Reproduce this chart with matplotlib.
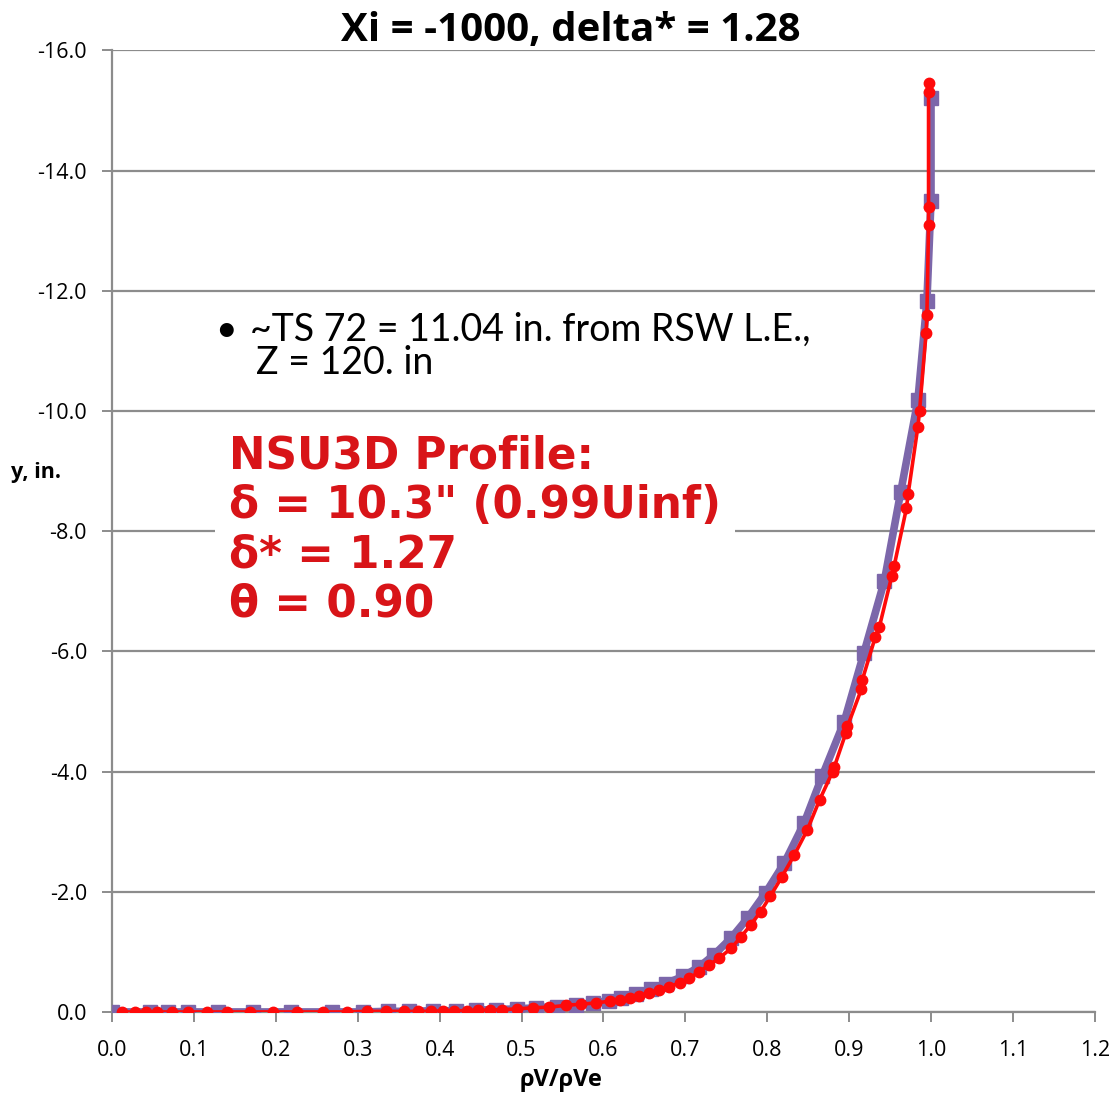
"""Boundary layer velocity profile: measured vs NSU3D at Xi = -1000."""

import matplotlib
matplotlib.use("Agg")
import matplotlib.pyplot as plt

# Measured profile (purple squares)
exp_x = [0.0, 0.046, 0.068, 0.093, 0.129, 0.172, 0.219, 0.268, 0.306, 0.337,
         0.363, 0.392, 0.420, 0.445, 0.469, 0.494, 0.518, 0.543, 0.567, 0.587,
         0.607, 0.622, 0.640, 0.658, 0.676, 0.697, 0.717, 0.735, 0.756, 0.776,
         0.798, 0.821, 0.845, 0.867, 0.894, 0.918, 0.943, 0.963, 0.984, 0.995,
         1.000, 1.000]
exp_y = [0.0, 0.0, 0.0, 0.0, 0.0, 0.0, 0.0, 0.0, 0.0, -0.01,
         -0.01, -0.02, -0.02, -0.03, -0.04, -0.05, -0.07, -0.09, -0.12, -0.15,
         -0.19, -0.24, -0.30, -0.38, -0.47, -0.59, -0.75, -0.95, -1.23, -1.56,
         -1.98, -2.48, -3.14, -3.92, -4.83, -5.97, -7.17, -8.65, -10.18, -11.83,
         -13.50, -15.20]

# NSU3D profile (red circles)
cfd_x = [0.012, 0.028, 0.042, 0.055, 0.073, 0.093, 0.116, 0.140, 0.168, 0.196,
         0.226, 0.258, 0.287, 0.311, 0.335, 0.357, 0.373, 0.390, 0.404, 0.418,
         0.433, 0.447, 0.461, 0.476, 0.494, 0.514, 0.534, 0.554, 0.573, 0.591,
         0.608, 0.620, 0.632, 0.644, 0.656, 0.668, 0.680, 0.693, 0.705, 0.717,
         0.729, 0.741, 0.756, 0.768, 0.780, 0.792, 0.804, 0.818, 0.833, 0.849,
         0.864, 0.880, 0.882, 0.896, 0.898, 0.915, 0.916, 0.932, 0.937, 0.952,
         0.955, 0.970, 0.972, 0.984, 0.986, 0.994, 0.995, 0.997, 0.997, 0.997,
         0.997]
cfd_y = [0.0, 0.0, 0.0, 0.0, 0.0, 0.0, 0.0, 0.0, 0.0, 0.0,
         0.0, 0.0, 0.0, -0.01, -0.01, -0.01, -0.01, -0.01, -0.02, -0.02,
         -0.02, -0.03, -0.03, -0.04, -0.05, -0.07, -0.08, -0.11, -0.13, -0.15,
         -0.18, -0.20, -0.23, -0.27, -0.31, -0.37, -0.42, -0.48, -0.56, -0.67,
         -0.78, -0.89, -1.06, -1.25, -1.45, -1.67, -1.93, -2.25, -2.61, -3.03,
         -3.53, -4.00, -4.08, -4.64, -4.75, -5.37, -5.52, -6.24, -6.41, -7.25,
         -7.42, -8.38, -8.61, -9.74, -10.00, -11.30, -11.60, -13.10, -13.40, -15.30,
         -15.45]

y_ticks = [0, -2, -4, -6, -8, -10, -12, -14, -16]
x_ticks = [0.0, 0.1, 0.2, 0.3, 0.4, 0.5, 0.6, 0.7, 0.8, 0.9, 1.0, 1.1, 1.2]

purple = "#7c67aa"
red = "#ff0a0a"
grid_gray = "#8c8c8c"

fig = plt.figure(figsize=(11.16, 10.94), dpi=100)
ax = fig.add_axes([0.1004, 0.075, 0.8806, 0.879])

ax.plot(exp_x, exp_y, color=purple, lw=5.5, marker="s", ms=9.5,
        mfc=purple, mec=purple, zorder=3)
ax.plot(cfd_x, cfd_y, color=red, lw=2.6, marker="o", ms=7.5,
        mfc=red, mec=red, zorder=4)

ax.set_xlim(0, 1.2)
ax.set_ylim(0, -16)
ax.set_xticks(x_ticks)
ax.set_yticks(y_ticks)
ax.set_xticklabels([f"{v:.1f}" for v in x_ticks])
ax.set_yticklabels([f"{v:.1f}" for v in y_ticks])

for lab in ax.get_xticklabels() + ax.get_yticklabels():
    lab.set_fontfamily("Open Sans")
    lab.set_fontsize(15.5)

ax.yaxis.grid(True, color=grid_gray, lw=1.6)
ax.set_axisbelow(True)
for side in ("top", "right"):
    ax.spines[side].set_visible(False)
for side in ("left", "bottom"):
    ax.spines[side].set_color(grid_gray)
    ax.spines[side].set_linewidth(1.6)
ax.tick_params(axis="both", direction="out", length=7, width=1.4,
               color=grid_gray)
ax.tick_params(axis="x", pad=13)
ax.tick_params(axis="y", pad=11)

fig.text(0.503, 0.013, "ρV/ρVe", fontfamily="Open Sans", fontweight="bold",
         fontsize=17, ha="center", va="center")
fig.text(0.010, 0.568, "y, in.", fontfamily="Open Sans", fontweight="bold",
         fontsize=15.5, ha="left", va="center")

fig.text(0.511, 0.990, "Xi = -1000, delta* = 1.28", fontfamily="Open Sans",
         fontweight="bold", fontsize=29, ha="center", va="top")

# Station note
ax.text(0.1256, -11.35, "•", fontfamily="Lato", fontsize=27,
        va="center", ha="left", zorder=5)
ax.text(0.168, -11.35, "~TS 72 = 11.04 in. from RSW L.E.,", fontfamily="Lato",
        fontsize=27, va="center", ha="left", zorder=5)
ax.text(0.176, -10.80, "Z = 120. in", fontfamily="Lato",
        fontsize=27, va="center", ha="left", zorder=5)

ax.text(0.143, -9.6,
        "NSU3D Profile:\nδ = 10.3\" (0.99Uinf)\nδ* = 1.27\nθ = 0.90",
        fontfamily="DejaVu Sans", fontweight="bold", fontsize=31.5,
        color="#d81418", va="top", ha="left", linespacing=1.18, zorder=5,
        bbox=dict(facecolor="white", edgecolor="none", pad=10))

fig.savefig("out.png", dpi=100)
